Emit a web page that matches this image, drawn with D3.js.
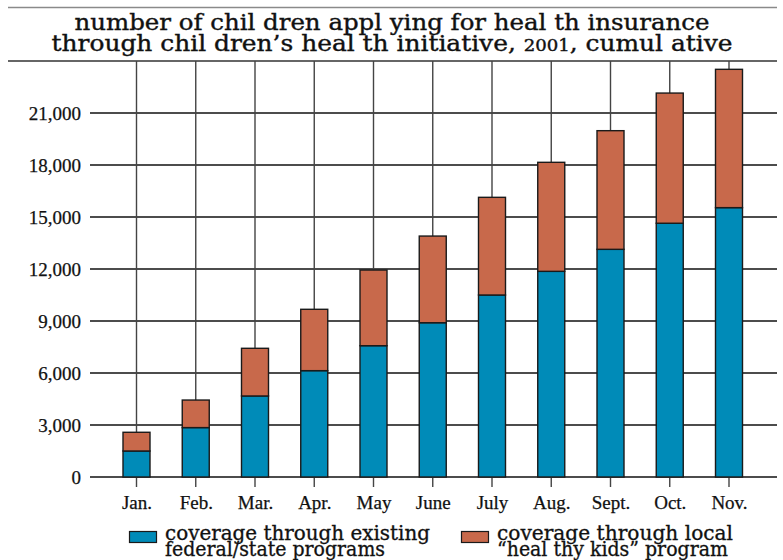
<!DOCTYPE html>
<html>
<head>
<meta charset="utf-8">
<script src="https://cdn.jsdelivr.net/npm/d3@7"></script>
<style>
  body { margin: 0; background: #fff; }
  svg { display: block; }
</style>
</head>
<body>
<svg id="chart" width="783" height="560"></svg>
<script>
// Monthly cumulative applications, 2001
const months = ["Jan.", "Feb.", "Mar.", "Apr.", "May", "June", "July", "Aug.", "Sept.", "Oct.", "Nov."];
const federalState = [1500, 2850, 4675, 6135, 7575, 8900, 10500, 11865, 13135, 14640, 15540];
const healthyKids = [1080, 1590, 2750, 3540, 4365, 5000, 5635, 6290, 6845, 7510, 7980];
const yTicks = [0, 3000, 6000, 9000, 12000, 15000, 18000, 21000];
const seriesNames = ["coverage through existing|federal/state programs", "coverage through local|\u201cheal thy kids\u201d program"];
const seriesColors = ["#008bb8", "#c8694b"];
// Title lines; segments in braces are set in small figures
const titleLines = ["number of chil dren appl ying for heal th insurance", "through chil dren\u2019s heal th initiative, {2001}, cumul ative"];

const svg = d3.select("#chart");
const serif = "'DejaVu Serif Condensed', 'DejaVu Serif', serif";
const labelFont = "'Liberation Serif', 'Times New Roman', serif";

// Title block with rules above and below
svg.append("line").attr("x1", 8).attr("x2", 777).attr("y1", 7.5).attr("y2", 7.5)
  .attr("stroke", "#8a8a8a").attr("stroke-width", 1.5);
const titleSpecs = [{ y: 30, w: 635 }, { y: 50.5, w: 681 }];
titleLines.forEach((t, i) => {
  const txt = svg.append("text").attr("x", 392).attr("y", titleSpecs[i].y)
    .attr("text-anchor", "middle").attr("font-family", serif).attr("font-size", 22)
    .attr("textLength", titleSpecs[i].w).attr("lengthAdjust", "spacingAndGlyphs")
    .attr("fill", "#111").attr("stroke", "#111").attr("stroke-width", 0.35);
  t.split(/(\{[^}]*\})/).filter(s => s.length).forEach(seg => {
    if (seg.startsWith("{")) {
      txt.append("tspan").attr("font-size", 16).text(seg.slice(1, -1));
    } else {
      txt.append("tspan").text(seg);
    }
  });
});

// Scales
const x = d3.scalePoint().domain(months).range([136.5, 729]);
const y = d3.scaleLinear().domain([0, 24000]).range([477, 61]);
const barW = 27;

// Horizontal grid
svg.append("g").selectAll("line").data(yTicks).join("line")
  .attr("x1", 90).attr("x2", 777)
  .attr("y1", d => y(d)).attr("y2", d => y(d))
  .attr("stroke", "#111").attr("stroke-width", 1.3);

// Top rule of plot (title underline)
svg.append("line").attr("x1", 8).attr("x2", 777).attr("y1", 61).attr("y2", 61)
  .attr("stroke", "#333").attr("stroke-width", 1.5);

// Vertical grid through category centres, extending into tick marks
svg.append("g").selectAll("line").data(months).join("line")
  .attr("x1", d => x(d)).attr("x2", d => x(d))
  .attr("y1", 61).attr("y2", 487)
  .attr("stroke", "#444").attr("stroke-width", 1.4);

// Y axis labels
const yAxis = d3.axisLeft(y).tickValues(yTicks).tickSize(0).tickPadding(0)
  .tickFormat(d3.format(","));
const yg = svg.append("g").attr("transform", "translate(81,0)").call(yAxis);
yg.select(".domain").remove();
yg.selectAll("text").attr("font-family", labelFont).attr("font-size", 19)
  .attr("fill", "#111").attr("stroke", "#111").attr("stroke-width", 0.25).attr("dy", "0.34em");

// X axis labels
const xAxis = d3.axisBottom(x).tickSize(0).tickPadding(0);
const xg = svg.append("g").attr("transform", "translate(0,509)").call(xAxis);
xg.select(".domain").remove();
xg.selectAll("text").attr("font-family", labelFont).attr("font-size", 19)
  .attr("fill", "#111").attr("stroke", "#111").attr("stroke-width", 0.25).attr("dy", 0).attr("y", 0);

// Stacked bars
const table = months.map((m, i) => ({ month: m, federal: federalState[i], local: healthyKids[i] }));
const stack = d3.stack().keys(["federal", "local"])(table);
svg.append("g").selectAll("g").data(stack).join("g")
  .attr("fill", (d, i) => seriesColors[i])
  .selectAll("rect").data(d => d).join("rect")
  .attr("x", d => x(d.data.month) - barW / 2)
  .attr("width", barW)
  .attr("y", d => y(d[1]))
  .attr("height", d => y(d[0]) - y(d[1]))
  .attr("stroke", "#1a1a1a").attr("stroke-width", 1.4);

// Legend
const legendX = [129, 461];
const legendTextW = [[265, 220], [236, 231]];
seriesNames.forEach((name, i) => {
  const g = svg.append("g");
  g.append("rect").attr("x", legendX[i] + 0.5).attr("y", 531.5).attr("width", 27).attr("height", 11)
    .attr("fill", seriesColors[i]).attr("stroke", "#1a1a1a").attr("stroke-width", 1.2);
  name.split("|").forEach((line, j) => {
    g.append("text").attr("x", legendX[i] + 36).attr("y", 540 + j * 16)
      .attr("font-family", serif).attr("font-size", 21).attr("fill", "#111")
      .attr("stroke", "#111").attr("stroke-width", 0.3)
      .attr("textLength", legendTextW[i][j]).attr("lengthAdjust", "spacingAndGlyphs")
      .text(line);
  });
});
</script>
</body>
</html>
